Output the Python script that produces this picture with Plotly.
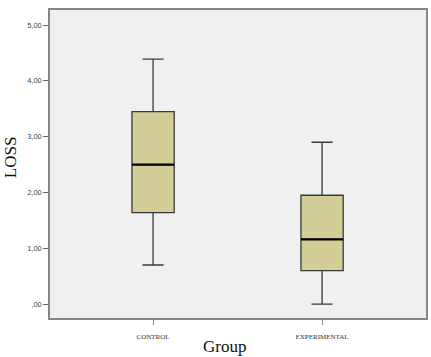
import plotly.graph_objects as go

groups = ["CONTROL", "EXPERIMENTAL"]
lower = [0.70, 0.00]
q1 = [1.64, 0.60]
median = [2.50, 1.16]
q3 = [3.45, 1.95]
upper = [4.39, 2.90]
ytick_vals = [0, 1, 2, 3, 4, 5]
ytick_text = [",00", "1,00", "2,00", "3,00", "4,00", "5,00"]

pos = list(range(len(groups)))
box_w = 0.25

fig = go.Figure()
fig.add_trace(go.Box(
    x=pos, q1=q1, median=median, q3=q3, lowerfence=lower, upperfence=upper,
    width=box_w, whiskerwidth=0.5,
    fillcolor="#D3CE97", line=dict(color="#3a3a3a", width=1.3),
    boxpoints=False, showlegend=False, hoverinfo="skip",
))
for i, m in zip(pos, median):
    fig.add_trace(go.Scatter(
        x=[i - box_w / 2, i + box_w / 2], y=[m, m], mode="lines",
        line=dict(color="#000000", width=2.2), showlegend=False, hoverinfo="skip",
    ))

serif = "Liberation Serif, Times New Roman"
fig.update_layout(
    width=431, height=357,
    margin=dict(l=50, r=3, t=10, b=39),
    paper_bgcolor="white", plot_bgcolor="#F0F0F0",
    font=dict(family="Liberation Sans, Arial", color="#333"),
    annotations=[
        dict(text="Group", xref="paper", yref="paper", x=(225.5 - 50) / 378, y=-(346 - 318) / 308,
             xanchor="center", yanchor="middle", showarrow=False,
             font=dict(family=serif, size=17, color="#111")),
        dict(text="LOSS", xref="paper", yref="paper", x=-(50 - 10) / 378, y=(318 - 157) / 308,
             xanchor="center", yanchor="middle", showarrow=False, textangle=-90,
             font=dict(family=serif, size=17, color="#111")),
    ],
)
fig.update_xaxes(
    range=[-0.61, 1.615], tickvals=pos, ticktext=groups,
    tickfont=dict(family=serif, size=7, color="#333"),
    ticks="outside", ticklen=5, tickcolor="#888", ticklabelstandoff=6,
    showgrid=False, zeroline=False,
    showline=True, linecolor="#888", linewidth=1.5, mirror=True,
)
fig.update_yaxes(
    range=[-0.25, 5.27], tickvals=ytick_vals, ticktext=ytick_text,
    tickfont=dict(family="Liberation Sans, Arial", size=7.5, color="#444"),
    ticks="outside", ticklen=5, tickcolor="#666",
    showgrid=False, zeroline=False,
    showline=True, linecolor="#888", linewidth=1.5, mirror=True,
)
fig.write_html("out.html")
